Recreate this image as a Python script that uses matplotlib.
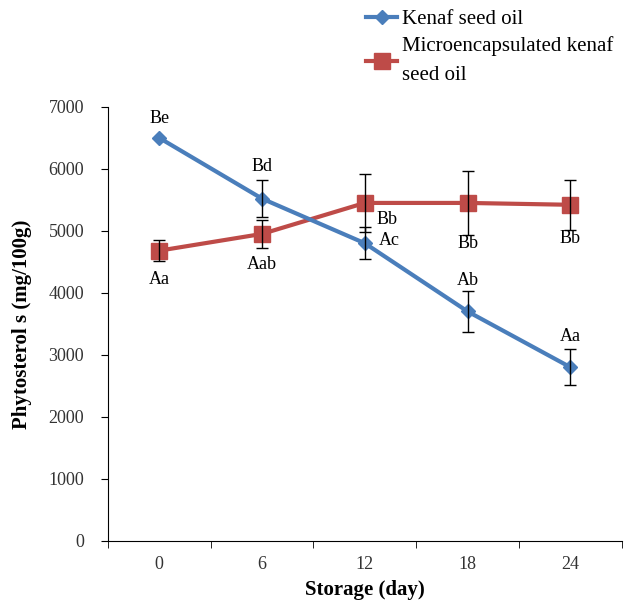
import numpy as np
import matplotlib
matplotlib.use("Agg")
import matplotlib.pyplot as plt

days = ["0", "6", "12", "18", "24"]
kenaf = [6500, 5520, 4800, 3700, 2800]
kenaf_err = [0, 300, 260, 330, 290]
micro = [4680, 4950, 5450, 5450, 5420]
micro_err = [170, 230, 470, 520, 400]
kenaf_labels = ["Be", "Bd", "Ac", "Ab", "Aa"]
micro_labels = ["Aa", "Aab", "Bb", "Bb", "Bb"]

plt.rcParams['font.family'] = ['Liberation Serif', 'DejaVu Serif']

fig = plt.figure(figsize=(6.3, 6.07), dpi=100)
ax = fig.add_axes([0.171, 0.109, 0.816, 0.715])

x = np.arange(len(days))
blue = "#4A7EBB"
red = "#BE4B48"

# skip error bars of zero size (no caps drawn on the first kenaf point)
k_err = np.array(kenaf_err)
has_err = k_err > 0
ax.errorbar(x[has_err], np.array(kenaf)[has_err], yerr=k_err[has_err], fmt="none",
            ecolor="black", elinewidth=1, capsize=4, capthick=1, zorder=4)
ax.errorbar(x, micro, yerr=micro_err, fmt="none", ecolor="black",
            elinewidth=1, capsize=4, capthick=1, zorder=4)
ax.plot(x, kenaf, color=blue, lw=3, marker="D", ms=7, zorder=3,
        label="Kenaf seed oil")
ax.plot(x, micro, color=red, lw=3, marker="s", ms=11, zorder=2,
        label="Microencapsulated kenaf\nseed oil")

# letters for significance (x offset in categories, y offset in points)
k_off = [(0, 14), (0, 23), (0.24, 2), (0, 22), (0, 22)]
m_off = [(0, -21), (0, -22), (0.22, -12), (0, -29), (0, -24)]
for i in range(len(days)):
    ax.annotate(kenaf_labels[i], (x[i] + k_off[i][0], kenaf[i]), xytext=(0, k_off[i][1]),
                textcoords="offset points", ha="center", va="center", fontsize=13)
    ax.annotate(micro_labels[i], (x[i] + m_off[i][0], micro[i]), xytext=(0, m_off[i][1]),
                textcoords="offset points", ha="center", va="center", fontsize=13)

ax.set_xlim(-0.5, 4.5)
ax.set_ylim(0, 7000)
ax.set_yticks(range(0, 7001, 1000))
ax.set_xticks(x)
ax.set_xticklabels(days)
ax.set_xticks(np.arange(-0.5, 4.6, 1), minor=True)
ax.tick_params(axis="x", which="major", length=0, pad=11)
ax.tick_params(axis="x", which="minor", length=5, direction="out")
ax.tick_params(axis="y", length=5, direction="out", pad=12)
ax.tick_params(labelsize=13, labelcolor="#333333")
for s in ["top", "right"]:
    ax.spines[s].set_visible(False)

ax.set_xlabel("Storage (day)", fontsize=15, fontweight="bold", labelpad=5)
ax.set_ylabel("Phytosterol s (mg/100g)", fontsize=15, fontweight="bold", labelpad=12)

leg = fig.legend(loc="upper left", bbox_to_anchor=(0.575, 0.991), frameon=False,
                 fontsize=15, handlelength=1.45, handletextpad=0.25,
                 labelspacing=0.35, borderpad=0.2, borderaxespad=0)
leg.get_texts()[1].set_linespacing(1.7)

fig.savefig("out.png", dpi=100)
